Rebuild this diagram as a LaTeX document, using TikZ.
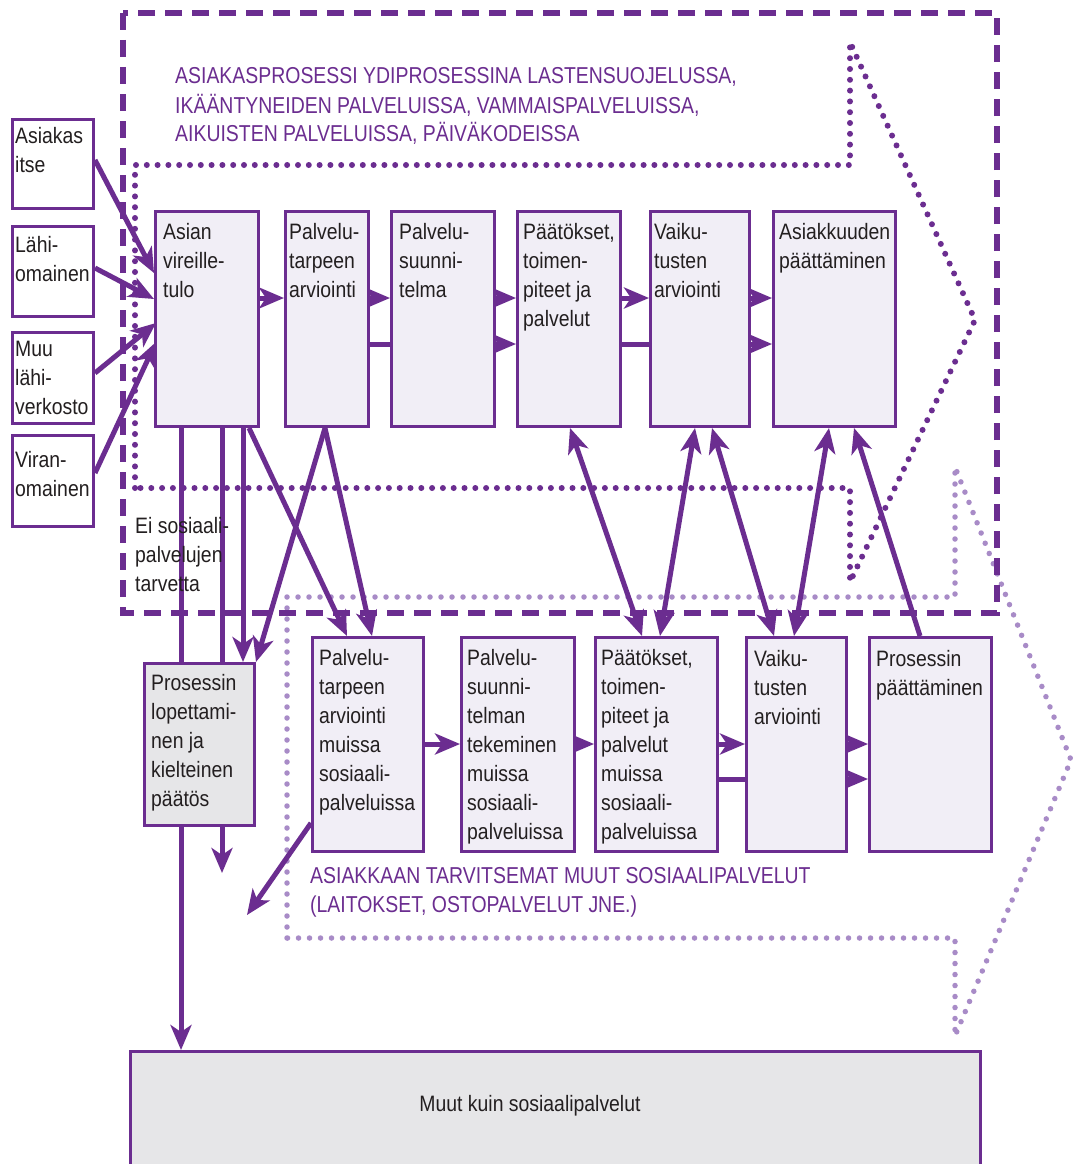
\documentclass[tikz,border=0pt]{standalone}
\usepackage{fontspec}
\setmainfont[FakeStretch=0.87]{Liberation Sans}
\newfontfamily\headfont[FakeStretch=0.845]{Liberation Sans}
\usetikzlibrary{arrows.meta,calc}
\pgfdeclarelayer{back}
\pgfdeclarelayer{links}
\pgfsetlayers{back,links,main}
\definecolor{vio}{HTML}{6B2D90}
\definecolor{lav}{HTML}{F1EEF6}
\definecolor{greyfill}{HTML}{E6E6E8}
\definecolor{lilac}{HTML}{A88BC7}
\definecolor{ink}{HTML}{231F20}
% stacked left-aligned lines; the baseline is that of the first line
\newcommand\mlines[1]{\vtop{\baselineskip=29pt\lineskiplimit=-20pt\halign{##\hfil\cr#1\crcr}}}

\begin{document}
\begin{tikzpicture}[x=1pt,y=-1pt,
  >={Stealth[length=25pt,width=21pt,inset=7pt]},
  stepbox/.style={draw=vio, line width=3pt, fill=lav, anchor=north west, inner sep=0pt},
  srcbox/.style={draw=vio, line width=3pt, fill=white, anchor=north west, inner sep=0pt},
  endbox/.style={draw=vio, line width=3pt, fill=greyfill, anchor=north west, inner sep=0pt},
  txt/.style={anchor=base west, inner sep=0pt, text=ink, font=\fontsize{22.3pt}{29pt}\selectfont},
  head/.style={anchor=base west, inner sep=0pt, text=vio, font=\headfont\fontsize{23pt}{29pt}\selectfont},
  flow/.style={draw=vio, line width=5pt, ->},
  both/.style={draw=vio, line width=5pt, <->},
  darkdots/.style={draw=vio, line width=6pt, line cap=round, dash pattern=on 0pt off 10.8pt},
  lilacdots/.style={draw=lilac, line width=5.5pt, line cap=round, dash pattern=on 0pt off 11pt},
  dashes/.style={draw=vio, line width=5.5pt, dash pattern=on 17pt off 10pt},
]
\useasboundingbox (0,0) rectangle (1077,1164);

% frames of the two service areas
\begin{pgfonlayer}{back}
  \fill[white] (0,0) rectangle (1077,1164);
  \draw[lilacdots] (287,938) -- (287,597) -- (955,597) -- (955,467) -- (1071,760) -- (955,1036) -- (955,938) -- cycle;
  \draw[darkdots] (135,488) -- (135,165) -- (850,165) -- (850,42) -- (975,320) -- (850,582) -- (850,488) -- cycle;
  \draw[dashes] (123,13) rectangle (997,613);
\end{pgfonlayer}

% who brings the case up
\node[srcbox, minimum width=81pt, minimum height=89pt] (asiakas) at (11,118) {};
\node[srcbox, minimum width=81pt, minimum height=90pt] (lahi) at (11,225) {};
\node[srcbox, minimum width=81pt, minimum height=91pt] (muu) at (11,331) {};
\node[srcbox, minimum width=81pt, minimum height=91pt] (viran) at (11,434) {};

% core process
\node[stepbox, minimum width=103pt, minimum height=215pt] (asian) at (154,210) {};
\node[stepbox, minimum width=83pt, minimum height=215pt] (ptarve) at (284,210) {};
\node[stepbox, minimum width=103pt, minimum height=215pt] (psuun) at (390,210) {};
\node[stepbox, minimum width=103pt, minimum height=215pt] (paat) at (516,210) {};
\node[stepbox, minimum width=99pt, minimum height=215pt] (vaik) at (649,210) {};
\node[stepbox, minimum width=122pt, minimum height=215pt] (asiakk) at (772,210) {};

% other social services
\node[stepbox, minimum width=111pt, minimum height=214pt] (lptarve) at (311,636) {};
\node[stepbox, minimum width=113pt, minimum height=214pt] (lpsuun) at (460,636) {};
\node[stepbox, minimum width=122pt, minimum height=214pt] (lpaat) at (594,636) {};
\node[stepbox, minimum width=100pt, minimum height=214pt] (lvaik) at (745,636) {};
\node[stepbox, minimum width=122pt, minimum height=214pt] (lpros) at (868,636) {};

% end points
\node[endbox, minimum width=110pt, minimum height=162pt] (plop) at (143,662) {};
\node[endbox, minimum width=850pt, minimum height=150pt] (muut) at (129,1050) {};

\coordinate (stubA) at (222,873);
\coordinate (stubB) at (247,915);

\begin{pgfonlayer}{links}
  % incoming cases
  \draw[flow] ([yshift=-42pt]asiakas.north east) -- ([yshift=-63pt]asian.north west);
  \draw[flow] ([yshift=-43pt]lahi.north east) -- ([yshift=-89pt]asian.north west);
  \draw[flow] ([yshift=-42pt]muu.north east) -- ([xshift=2pt,yshift=-113pt]asian.north west);
  \draw[flow] ([yshift=-39pt]viran.north east) -- ([xshift=2pt,yshift=-132pt]asian.north west);

  % core process steps
  \draw[flow] ([yshift=-88pt]asian.north east) -- ([yshift=-88pt]ptarve.north west);
  \draw[flow] ([yshift=-88pt]ptarve.north east) -- ([yshift=-88pt]psuun.north west);
  \draw[flow] ([yshift=-88pt]psuun.north east) -- ([yshift=-88pt]paat.north west);
  \draw[flow] ([yshift=-88pt]paat.north east) -- ([yshift=-88pt]vaik.north west);
  \draw[flow] ([yshift=-88pt]vaik.north east) -- ([yshift=-88pt]asiakk.north west);
  \draw[flow] ([yshift=-134pt]ptarve.north east) -- ([yshift=-134pt]paat.north west);
  \draw[flow] ([yshift=-134pt]paat.north east) -- ([yshift=-134pt]asiakk.north west);

  % other social services steps
  \draw[flow] ([yshift=-108pt]lptarve.north east) -- ([yshift=-108pt]lpsuun.north west);
  \draw[flow] ([yshift=-108pt]lpsuun.north east) -- ([yshift=-108pt]lpaat.north west);
  \draw[flow] ([yshift=-108pt]lpaat.north east) -- ([yshift=-108pt]lvaik.north west);
  \draw[flow] ([yshift=-108pt]lvaik.north east) -- ([yshift=-108pt]lpros.north west);
  \draw[flow] ([yshift=-143pt]lpaat.north east) -- ([yshift=-143pt]lpros.north west);

  % leaving the core process
  \draw[flow] ([xshift=27pt]asian.south west) -- ([xshift=52pt]muut.north west);
  \draw[flow] ([xshift=68pt]asian.south west) -- (stubA);
  \draw[flow] ([xshift=89pt]asian.south west) -- ([xshift=100pt]plop.north west);
  \draw[flow] ([xshift=95pt]asian.south west) -- ([xshift=36pt]lptarve.north west);
  \draw[flow] ([xshift=41pt]ptarve.south west) -- (plop.north east);
  \draw[flow] ([xshift=41pt]ptarve.south west) -- ([xshift=61pt]lptarve.north west);
  \draw[flow] ([yshift=30pt]lptarve.south west) -- (stubB);

  % exchange between the two processes
  \draw[both] ([xshift=54pt]paat.south west) -- ([xshift=48pt]lpaat.north west);
  \draw[both] ([xshift=46pt]vaik.south west) -- ([xshift=66pt]lpaat.north west);
  \draw[both] ([xshift=63pt]vaik.south west) -- ([xshift=29pt]lvaik.north west);
  \draw[both] ([xshift=57pt]asiakk.south west) -- ([xshift=49pt]lvaik.north west);
  \draw[flow] ([xshift=52pt]lpros.north west) -- ([xshift=82pt]asiakk.south west);
\end{pgfonlayer}

% labels
\node[txt] (asiakas-t) at ([xshift=4pt,yshift=-25pt]asiakas.north west) {\mlines{Asiakas\cr itse}};
\node[txt] (lahi-t) at ([xshift=4pt,yshift=-27pt]lahi.north west) {\mlines{Lähi-\cr omainen}};
\node[txt] (muu-t) at ([xshift=4pt,yshift=-25pt]muu.north west) {\mlines{Muu\cr lähi-\cr verkosto}};
\node[txt] (viran-t) at ([xshift=4pt,yshift=-33pt]viran.north west) {\mlines{Viran-\cr omainen}};

\node[txt] (asian-t) at ([xshift=9pt,yshift=-29pt]asian.north west) {\mlines{Asian\cr vireille-\cr tulo}};
\node[txt] (ptarve-t) at ([xshift=5pt,yshift=-29pt]ptarve.north west) {\mlines{Palvelu-\cr tarpeen\cr arviointi}};
\node[txt] (psuun-t) at ([xshift=9pt,yshift=-29pt]psuun.north west) {\mlines{Palvelu-\cr suunni-\cr telma}};
\node[txt] (paat-t) at ([xshift=7pt,yshift=-29pt]paat.north west) {\mlines{Päätökset,\cr toimen-\cr piteet ja\cr palvelut}};
\node[txt] (vaik-t) at ([xshift=5pt,yshift=-29pt]vaik.north west) {\mlines{Vaiku-\cr tusten\cr arviointi}};
\node[txt] (asiakk-t) at ([xshift=7pt,yshift=-29pt]asiakk.north west) {\mlines{Asiakkuuden\cr päättäminen}};

\node[txt] (lptarve-t) at ([xshift=8pt,yshift=-29pt]lptarve.north west) {\mlines{Palvelu-\cr tarpeen\cr arviointi\cr muissa\cr sosiaali-\cr palveluissa}};
\node[txt] (lpsuun-t) at ([xshift=7pt,yshift=-29pt]lpsuun.north west) {\mlines{Palvelu-\cr suunni-\cr telman\cr tekeminen\cr muissa\cr sosiaali-\cr palveluissa}};
\node[txt] (lpaat-t) at ([xshift=7pt,yshift=-29pt]lpaat.north west) {\mlines{Päätökset,\cr toimen-\cr piteet ja\cr palvelut\cr muissa\cr sosiaali-\cr palveluissa}};
\node[txt] (lvaik-t) at ([xshift=9pt,yshift=-30pt]lvaik.north west) {\mlines{Vaiku-\cr tusten\cr arviointi}};
\node[txt] (lpros-t) at ([xshift=8pt,yshift=-30pt]lpros.north west) {\mlines{Prosessin\cr päättäminen}};

\node[txt] (plop-t) at ([xshift=8pt,yshift=-28pt]plop.north west) {\mlines{Prosessin\cr lopettami-\cr nen ja\cr kielteinen\cr päätös}};
\node[txt, anchor=base] (muut-t) at ([xshift=401pt,yshift=-61pt]muut.north west) {Muut kuin sosiaalipalvelut};

\node[txt] (ei-t) at (135,533) {\mlines{Ei sosiaali-\cr palvelujen\cr tarvetta}};

\node[head] (core-t) at (175,84) {\mlines{ASIAKASPROSESSI YDIPROSESSINA LASTENSUOJELUSSA,\cr IKÄÄNTYNEIDEN PALVELUISSA, VAMMAISPALVELUISSA,\cr AIKUISTEN PALVELUISSA, PÄIVÄKODEISSA}};
\node[head] (other-t) at (310,883) {\mlines{ASIAKKAAN TARVITSEMAT MUUT SOSIAALIPALVELUT\cr (LAITOKSET, OSTOPALVELUT JNE.)}};
\end{tikzpicture}
\end{document}
